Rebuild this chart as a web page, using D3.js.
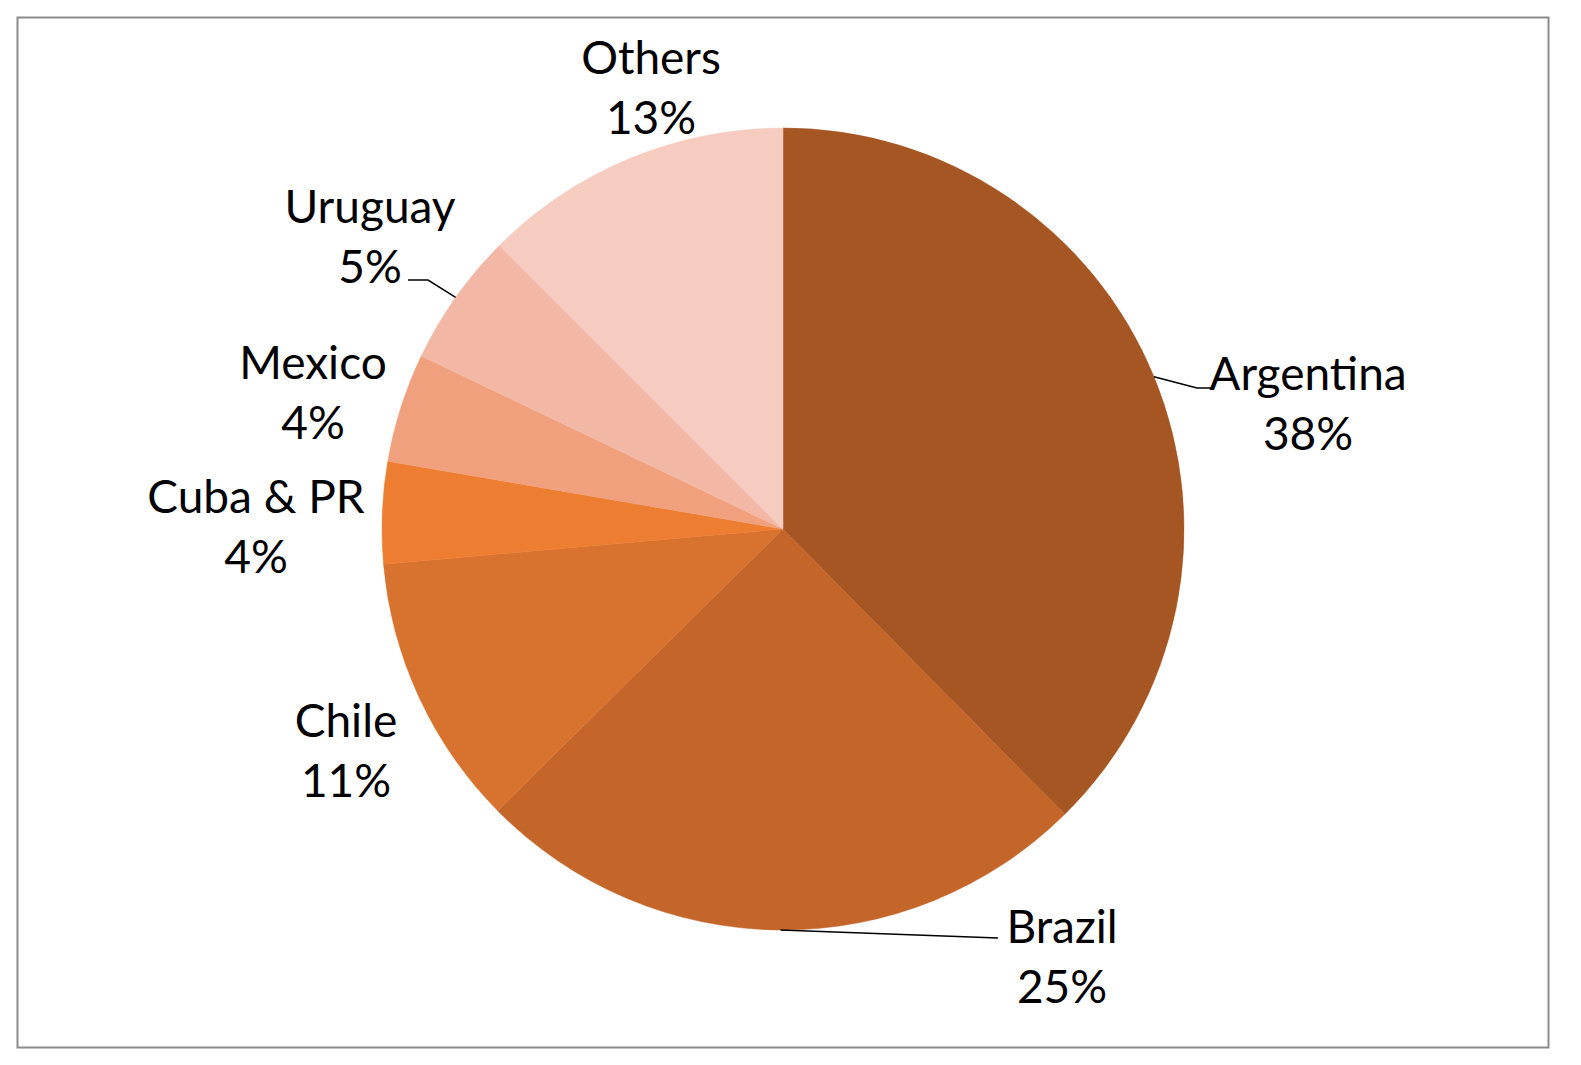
<!DOCTYPE html>
<html>
<head>
<meta charset="utf-8">
<script src="https://cdn.jsdelivr.net/npm/d3@7"></script>
<style>
  html, body { margin: 0; padding: 0; background: #fff; overflow: hidden; }
  svg { display: block; }
  svg text { font-family: Lato, "Noto Sans", sans-serif; fill: #000; }
</style>
</head>
<body>
<div id="chart"></div>
<script>
// shares (clockwise from 12 o'clock)
var countries = ["Argentina", "Brazil", "Chile", "Cuba & PR", "Mexico", "Uruguay", "Others"];
var shares = [37.6, 25.0, 11.0, 4.1, 4.4, 5.4, 12.5];
var shareLabels = ["38%", "25%", "11%", "4%", "4%", "5%", "13%"];
var colors = ["#A65623", "#C4652A", "#D8722F", "#ED7D31", "#F0A07C", "#F3B8A5", "#F7CCC0"];

var width = 1581, height = 1065;
var cx = 783, cy = 529, radius = 401;

// label block centre as offset from pie centre
var labelOffsets = [[525, -114], [279, 439], [-437, 233], [-527, 9], [-470, -125], [-413, -281], [-132, -430]];
// leader line elbow and end (offset from pie centre), null = no leader
var leaderPts = [
  [[414, -141], [429, -141]],
  [[215, 409], [215, 409]],
  null, null, null,
  [[-355, -249], [-375, -249]],
  null
];

var data = countries.map(function (c, i) {
  return { name: c, value: shares[i], label: shareLabels[i], color: colors[i],
           off: labelOffsets[i], leader: leaderPts[i] };
});

var svg = d3.select('#chart')
  .append('svg')
  .attr("width", width)
  .attr("height", height);

svg.append("rect")
  .attr("x", 17.5).attr("y", 17.5)
  .attr("width", 1531).attr("height", 1030)
  .attr("fill", "#fff")
  .attr("stroke", "#8c8c8c")
  .attr("stroke-width", 2);

var pie = d3.pie()
  .sort(null)
  .value(function (d) { return d.value; });

var arc = d3.arc().innerRadius(0).outerRadius(radius);

var g = svg.append("g")
  .attr("transform", "translate(" + cx + "," + cy + ")");

var arcs = pie(data);

g.selectAll("path.slice")
  .data(arcs)
  .enter()
  .append("path")
  .attr("class", "slice")
  .attr("d", arc)
  .attr("fill", function (d) { return d.data.color; })
  .attr("stroke", function (d) { return d.data.color; })
  .attr("stroke-width", 0.5);

// leader lines: from the arc mid point to an elbow next to the label
g.selectAll("path.leader")
  .data(arcs.filter(function (d) { return d.data.leader; }))
  .enter()
  .append("path")
  .attr("class", "leader")
  .attr("fill", "none")
  .attr("stroke", "#000")
  .attr("stroke-width", 1.5)
  .attr("d", function (d) {
    var a = (d.startAngle + d.endAngle) / 2;
    var p = [Math.sin(a) * radius, -Math.cos(a) * radius];
    var l = d.data.leader;
    return "M" + p + "L" + l[0] + "L" + l[1];
  });

var labels = g.selectAll("text.lbl")
  .data(arcs)
  .enter()
  .append("text")
  .attr("class", "lbl")
  .attr("text-anchor", "middle")
  .style("font-size", "46px")
  .attr("transform", function (d) {
    return "translate(" + d.data.off[0] + "," + d.data.off[1] + ")";
  });

labels.append("tspan")
  .attr("x", 0)
  .attr("y", -25)
  .text(function (d) { return d.data.name; });

labels.append("tspan")
  .attr("x", 0)
  .attr("y", 35)
  .text(function (d) { return d.data.label; });
</script>
</body>
</html>
